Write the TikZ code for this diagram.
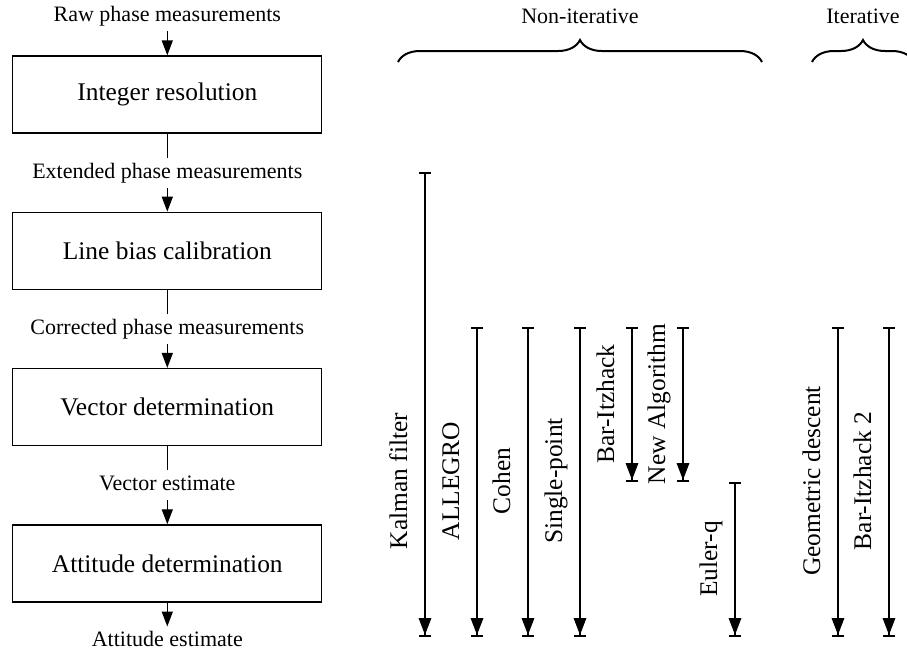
\documentclass[tikz,border=0pt]{standalone}
\usepackage{fontspec}
\setmainfont{Liberation Serif}
\usetikzlibrary{arrows.meta,positioning,calc,decorations.pathreplacing}

\begin{document}
\begin{tikzpicture}[x=0.5pt, y=-0.5pt,
 stage/.style={draw, line width=0.65pt, minimum width=154.5pt, minimum height=38.5pt, inner sep=0pt, font=\fontsize{12.7}{15}\selectfont},
 sig/.style={font=\fontsize{11}{13}\selectfont, inner sep=2pt, text height=8pt, text depth=2.5pt},
 flow/.style={line width=0.65pt},
 feed/.style={flow, -{Triangle[length=7.5pt,width=5.5pt]}},
 span/.style={line width=1pt, {Bar[width=6pt]}-{Triangle[length=8.5pt,width=6.2pt]Bar[width=6pt]}},
 alg/.style={rotate=90, anchor=base, inner sep=0pt, font=\fontsize{12.7}{15}\selectfont},
 grp/.style={decorate, decoration={brace, amplitude=11pt}, line width=1pt}]

 \useasboundingbox (0,0) rectangle (907,649);
 \clip (0,0) rectangle (907,649);

 % --- Processing chain ---
 \node[stage] (ir) at (167.3,94.5) {Integer resolution};
 \node[stage, below=39pt of ir] (lbc) {Line bias calibration};
 \node[stage, below=39pt of lbc] (vd) {Vector determination};
 \node[stage, below=39pt of vd] (ad) {Attitude determination};

 \node[sig, above=12pt of ir] (raw) {Raw phase measurements};
 \node[sig] (ext) at ($(ir.south)!.5!(lbc.north)$) {Extended phase measurements};
 \node[sig] (corr) at ($(lbc.south)!.5!(vd.north)$) {Corrected phase measurements};
 \node[sig] (vec) at ($(vd.south)!.5!(ad.north)$) {Vector estimate};
 \node[sig, text depth=0pt, below=12pt of ad] (att) {Attitude estimate};

 \draw[feed] (raw) -- (ir);
 \draw[flow] (ir) -- (ext);
 \draw[feed] (ext) -- (lbc);
 \draw[flow] (lbc) -- (corr);
 \draw[feed] (corr) -- (vd);
 \draw[flow] (vd) -- (vec);
 \draw[feed] (vec) -- (ad);
 \draw[feed] (ad) -- (att);

 % --- Algorithm coverage ---
 \coordinate (kf-t) at (425,172); \coordinate (kf-b) at (425,637);
 \draw[span] (kf-t) -- (kf-b);
 \node[alg] (kf) at (407,481) {Kalman filter};

 \coordinate (al-t) at (477,327); \coordinate (al-b) at (477,637);
 \draw[span] (al-t) -- (al-b);
 \node[alg] (al) at (459,481) {ALLEGRO};

 \coordinate (co-t) at (528,327); \coordinate (co-b) at (528,637);
 \draw[span] (co-t) -- (co-b);
 \node[alg] (co) at (510,481) {Cohen};

 \coordinate (sp-t) at (580,327); \coordinate (sp-b) at (580,637);
 \draw[span] (sp-t) -- (sp-b);
 \node[alg] (sp) at (562,481) {Single-point};

 \coordinate (bi-t) at (632,327); \coordinate (bi-b) at (632,482);
 \draw[span] (bi-t) -- (bi-b);
 \node[alg] (bi) at (614,404) {Bar-Itzhack};

 \coordinate (na-t) at (683,327); \coordinate (na-b) at (683,482);
 \draw[span] (na-t) -- (na-b);
 \node[alg] (na) at (665,404) {New Algorithm};

 \coordinate (eq-t) at (735,482); \coordinate (eq-b) at (735,637);
 \draw[span] (eq-t) -- (eq-b);
 \node[alg] (eq) at (717,559) {Euler-q};

 \coordinate (gd-t) at (838,327); \coordinate (gd-b) at (838,637);
 \draw[span] (gd-t) -- (gd-b);
 \node[alg] (gd) at (820,481) {Geometric descent};

 \coordinate (bt-t) at (889,327); \coordinate (bt-b) at (889,637);
 \draw[span] (bt-t) -- (bt-b);
 \node[alg] (bt) at (871,481) {Bar-Itzhack 2};

 % --- Groups ---
 \coordinate (ni-l) at (398,62); \coordinate (ni-r) at (762,62);
 \draw[grp] (ni-l) -- (ni-r);
 \node[sig] (ni) at (580,18) {Non-iterative};

 \coordinate (it-l) at (812,62); \coordinate (it-r) at (914,62);
 \draw[grp] (it-l) -- (it-r);
 \node[sig] (it) at (863,18) {Iterative};
\end{tikzpicture}
\end{document}
